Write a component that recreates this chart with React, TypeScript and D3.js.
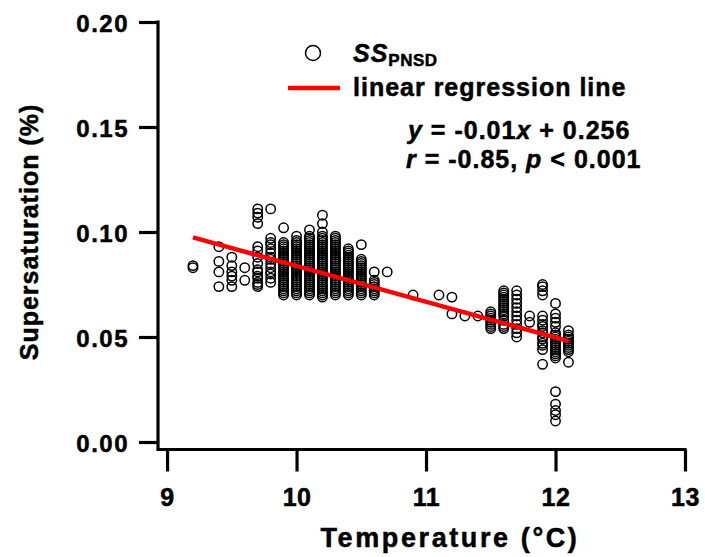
import React, { useRef, useEffect } from "react";
import * as d3 from "d3";

// temperature columns (°C) and the supersaturation values read at each one
const temps = [9.2, 9.4, 9.5, 9.6, 9.7, 9.8, 9.9, 10.0, 10.1, 10.2, 10.3, 10.4, 10.5, 10.6, 10.7, 10.9, 11.1, 11.2, 11.3, 11.4, 11.5, 11.6, 11.7, 11.8, 11.9, 12.0, 12.1];

const ssValues = [
  [0.083, 0.084],
  [0.093, 0.086, 0.081, 0.074],
  [0.088, 0.084, 0.081, 0.079, 0.077, 0.074],
  [0.083, 0.077],
  [0.111, 0.109, 0.107, 0.104, 0.093, 0.091, 0.088, 0.085, 0.082, 0.081, 0.079, 0.078, 0.076, 0.075, 0.074],
  [0.111, 0.097, 0.095, 0.094, 0.092, 0.09, 0.088, 0.087, 0.085, 0.083, 0.081, 0.08, 0.078, 0.076],
  [0.102, 0.095, 0.094, 0.093, 0.092, 0.091, 0.09, 0.089, 0.088, 0.087, 0.086, 0.085, 0.084, 0.083, 0.082, 0.081, 0.08, 0.079, 0.078, 0.077, 0.076, 0.075, 0.074, 0.073, 0.072, 0.071, 0.07],
  [0.098, 0.096, 0.095, 0.094, 0.093, 0.092, 0.091, 0.09, 0.089, 0.088, 0.087, 0.086, 0.085, 0.084, 0.083, 0.082, 0.081, 0.08, 0.079, 0.078, 0.077, 0.076, 0.075, 0.074, 0.073, 0.072, 0.071, 0.07],
  [0.101, 0.098, 0.097, 0.096, 0.095, 0.094, 0.093, 0.092, 0.091, 0.09, 0.089, 0.088, 0.087, 0.086, 0.085, 0.084, 0.083, 0.082, 0.081, 0.08, 0.079, 0.078, 0.077, 0.076, 0.075, 0.074, 0.073, 0.072, 0.071, 0.07],
  [0.108, 0.104, 0.1, 0.098, 0.097, 0.096, 0.095, 0.094, 0.093, 0.092, 0.091, 0.09, 0.089, 0.088, 0.087, 0.086, 0.085, 0.084, 0.083, 0.082, 0.081, 0.08, 0.079, 0.078, 0.077, 0.076, 0.075, 0.074, 0.073, 0.072, 0.071, 0.07, 0.069],
  [0.098, 0.097, 0.096, 0.095, 0.094, 0.093, 0.092, 0.091, 0.09, 0.089, 0.088, 0.087, 0.086, 0.085, 0.084, 0.083, 0.082, 0.081, 0.08, 0.079, 0.078, 0.077, 0.076, 0.075, 0.074, 0.073, 0.072, 0.071, 0.07],
  [0.092, 0.091, 0.09, 0.089, 0.088, 0.087, 0.086, 0.085, 0.084, 0.083, 0.082, 0.081, 0.08, 0.079, 0.078, 0.077, 0.076, 0.075, 0.074, 0.073, 0.072, 0.071, 0.07],
  [0.094, 0.087, 0.086, 0.085, 0.084, 0.083, 0.082, 0.081, 0.08, 0.079, 0.078, 0.077, 0.076, 0.075, 0.074, 0.073, 0.072, 0.071, 0.07],
  [0.081, 0.077, 0.076, 0.075, 0.074, 0.073, 0.072, 0.071, 0.07],
  [0.081],
  [0.07],
  [0.07],
  [0.069, 0.061],
  [0.06],
  [0.06],
  [0.062, 0.061, 0.06, 0.059, 0.058, 0.057, 0.056, 0.055, 0.054],
  [0.072, 0.071, 0.07, 0.069, 0.068, 0.067, 0.066, 0.065, 0.064, 0.063, 0.062, 0.061, 0.06, 0.058, 0.056, 0.055, 0.054],
  [0.072, 0.07, 0.068, 0.066, 0.064, 0.062, 0.06, 0.058, 0.056, 0.054, 0.052, 0.05],
  [0.06, 0.057],
  [0.075, 0.074, 0.072, 0.07, 0.06, 0.058, 0.056, 0.055, 0.053, 0.052, 0.05, 0.049, 0.047, 0.046, 0.044, 0.037],
  [0.066, 0.061, 0.059, 0.057, 0.055, 0.052, 0.051, 0.05, 0.049, 0.048, 0.047, 0.046, 0.045, 0.044, 0.043, 0.042, 0.041, 0.04, 0.024, 0.018, 0.015, 0.013, 0.01],
  [0.053, 0.051, 0.05, 0.049, 0.048, 0.047, 0.046, 0.045, 0.044, 0.043, 0.038],
];

// fitted line as drawn, and its range
const fitSlope = -0.01703;
const fitIntercept = 0.2541;
const fitRange = [9.2, 12.1];

const xTicks = [9, 10, 11, 12, 13];
const yTicks = [0, 0.05, 0.1, 0.15, 0.2];

const font = "'Liberation Sans', Arial, sans-serif";

const App = () => {
  const svgRef = useRef(null);
  const width = 705;
  const height = 557;

  useEffect(() => {
    const svg = d3.select(svgRef.current);
    svg.selectAll("*").remove();

    const x = d3.scaleLinear().domain([8.93, 13]).range([158, 685]);
    const y = d3.scaleLinear().domain([0, 0.2]).range([442, 22]);
    const axisY = 449.5;

    const points = [];
    temps.forEach((t, i) => ssValues[i].forEach((v) => points.push({ t, v })));

    // points
    svg
      .append("g")
      .selectAll("circle")
      .data(points)
      .enter()
      .append("circle")
      .attr("cx", (d) => x(d.t))
      .attr("cy", (d) => y(d.v))
      .attr("r", 4.7)
      .attr("fill", "none")
      .attr("stroke", "#000")
      .attr("stroke-width", 1.5);

    // regression line
    const line = d3
      .line()
      .x((d) => x(d))
      .y((d) => y(fitSlope * d + fitIntercept));
    svg
      .append("path")
      .attr("d", line(fitRange))
      .attr("fill", "none")
      .attr("stroke", "#ff0000")
      .attr("stroke-width", 4.5);

    // y axis
    const gy = svg
      .append("g")
      .attr("transform", "translate(158,0)")
      .call(
        d3
          .axisLeft(y)
          .tickValues(yTicks)
          .tickSize(19)
          .tickPadding(10)
          .tickFormat(d3.format(".2f"))
      );
    gy.select(".domain").remove();
    gy.selectAll(".tick line").attr("stroke-width", 3.2);
    gy.selectAll(".tick text")
      .attr("font-family", font)
      .attr("font-weight", "bold")
      .attr("font-size", 24)
      .attr("letter-spacing", 1.5)
      .attr("stroke", "#000")
      .attr("stroke-width", 0.5)
      .attr("dy", "0.38em");
    svg
      .append("line")
      .attr("x1", 158)
      .attr("x2", 158)
      .attr("y1", y(0.2) - 1.5)
      .attr("y2", axisY + 1.5)
      .attr("stroke", "#000")
      .attr("stroke-width", 3.2);

    // x axis
    const gx = svg
      .append("g")
      .attr("transform", `translate(0,${axisY})`)
      .call(d3.axisBottom(x).tickValues(xTicks).tickSize(22).tickPadding(17).tickFormat(d3.format("d")));
    gx.select(".domain").remove();
    gx.selectAll(".tick line").attr("stroke-width", 3.2);
    gx.selectAll(".tick text")
      .attr("font-family", font)
      .attr("font-weight", "bold")
      .attr("font-size", 25)
      .attr("letter-spacing", 0.5)
      .attr("stroke", "#000")
      .attr("stroke-width", 0.5);
    svg
      .append("line")
      .attr("x1", 158)
      .attr("x2", x(13) + 1.5)
      .attr("y1", axisY)
      .attr("y2", axisY)
      .attr("stroke", "#000")
      .attr("stroke-width", 3.2);

    // axis titles
    const titles = svg
      .append("g")
      .attr("font-family", font)
      .attr("font-weight", "bold")
      .attr("stroke", "#000")
      .attr("stroke-width", 0.5);
    titles
      .append("text")
      .attr("x", 450)
      .attr("y", 547)
      .attr("text-anchor", "middle")
      .attr("font-size", 27)
      .attr("letter-spacing", 2.6)
      .text("Temperature (°C)");
    titles
      .append("text")
      .attr("transform", "translate(38,232) rotate(-90)")
      .attr("text-anchor", "middle")
      .attr("font-size", 25)
      .attr("letter-spacing", 1)
      .text("Supersaturation (%)");

    // legend
    const lg = svg
      .append("g")
      .attr("font-family", font)
      .attr("font-weight", "bold");
    lg.append("circle")
      .attr("cx", 313)
      .attr("cy", 53)
      .attr("r", 7.5)
      .attr("fill", "none")
      .attr("stroke", "#000")
      .attr("stroke-width", 1.5);
    lg.append("line")
      .attr("x1", 288)
      .attr("x2", 340)
      .attr("y1", 88)
      .attr("y2", 88)
      .attr("stroke", "#ff0000")
      .attr("stroke-width", 4.5);

    const txt = lg.append("g").attr("stroke", "#000").attr("stroke-width", 0.5);
    const ss = txt.append("text").attr("x", 353).attr("y", 62).attr("font-size", 25);
    ss.append("tspan").attr("font-style", "italic").attr("letter-spacing", 1).text("SS");
    ss.append("tspan").attr("font-size", 17).attr("dy", 4).attr("letter-spacing", 0.5).text("PNSD");
    txt
      .append("text")
      .attr("x", 353)
      .attr("y", 96)
      .attr("font-size", 25)
      .attr("letter-spacing", 1)
      .text("linear regression line");

    // fit statistics
    const eq1 = txt.append("text").attr("x", 408).attr("y", 139).attr("font-size", 25).attr("letter-spacing", 1);
    eq1.append("tspan").attr("font-style", "italic").text("y");
    eq1.append("tspan").text(" = -0.01");
    eq1.append("tspan").attr("font-style", "italic").text("x");
    eq1.append("tspan").text(" + 0.256");
    const eq2 = txt.append("text").attr("x", 406).attr("y", 168).attr("font-size", 25).attr("letter-spacing", 1);
    eq2.append("tspan").attr("font-style", "italic").text("r");
    eq2.append("tspan").text(" = -0.85, ");
    eq2.append("tspan").attr("font-style", "italic").text("p");
    eq2.append("tspan").text(" < 0.001");
  }, []);

  return (
    <svg
      ref={svgRef}
      width={width}
      height={height}
      style={{ position: "absolute", left: 0, top: 0, background: "#fff" }}
    />
  );
};

export default App;
